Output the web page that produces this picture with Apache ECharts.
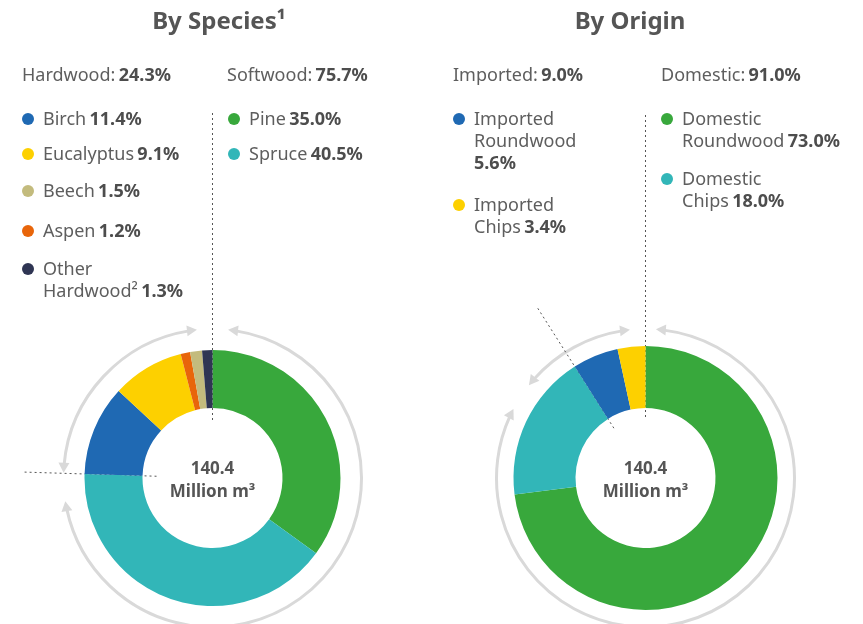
<!DOCTYPE html>
<html>
<head>
<meta charset="utf-8">
<script src="https://cdn.jsdelivr.net/npm/echarts@6/dist/echarts.min.js"></script>
<style>
  html, body { margin: 0; background: #fff; }
  #chart { width: 863px; height: 624px; }
</style>
</head>
<body>
<div id="chart"></div>
<script>
// By Species, in legend order
const speciesNames = ['Birch', 'Eucalyptus', 'Beech', 'Aspen', 'Other\nHardwood²', 'Pine', 'Spruce']
const speciesValues = [11.4, 9.1, 1.5, 1.2, 1.3, 35.0, 40.5]
const speciesColors = ['#1f69b3', '#fdd000', '#c3bb7d', '#e8650a', '#2f3553', '#38a83c', '#32b6b8']
const speciesPieOrder = [5, 6, 0, 1, 3, 2, 4] // clockwise from 12 o'clock
const speciesGroups = ['Hardwood', 'Softwood']
const speciesGroupValues = [24.3, 75.7]

// By Origin, in legend order
const originNames = ['Imported\nRoundwood', 'Imported\nChips', 'Domestic\nRoundwood', 'Domestic\nChips']
const originValues = [5.6, 3.4, 73.0, 18.0]
const originColors = ['#1f69b3', '#fdd000', '#38a83c', '#32b6b8']
const originPieOrder = [2, 3, 0, 1]
const originGroups = ['Imported', 'Domestic']
const originGroupValues = [9.0, 91.0]

const totalVolume = '140.4'
const totalUnit = 'Million m³'
const titles = ['By Species¹', 'By Origin']

// layout
const FONT = '"Noto Sans", "Open Sans", sans-serif'
const TXT = '#5e5e5e'
const BOLD = '#4d4d4d'
const centers = [[212.5, 478], [645.5, 478]]
const radii = [[70, 128], [70, 132]]
const titleX = [219, 630]
const speciesLegendPos = [[28, 119], [28, 154], [28, 191], [28, 231], [28, 269], [234, 119], [234, 154]]
const speciesHeaderPos = [[22, 76], [227, 76]]
const originLegendPos = [[459, 119], [459, 205], [667, 119], [667, 179]]
const originHeaderPos = [[453, 76], [661, 76]]
const originValueOwnLine = [true, false, false, false]
// gray arrow arcs: [from, to] degrees clockwise from top, arrows on both ends
const arrowArcs = [[[-88, -6], [6, 261]], [[-51.5, -6], [4, 297.6]]]

const rich = {
  n: { fontFamily: FONT, fontSize: 18, fill: TXT, lineHeight: 22 },
  b: { fontFamily: FONT, fontSize: 18, fontWeight: 'bold', fill: BOLD, lineHeight: 22 }
}

function legendItem(pos, name, value, color, ownLine) {
  const lines = name.split('\n').map(s => `{n|${s}}`)
  const val = `{b|${value.toFixed(1)}%}`
  if (ownLine) lines.push(val)
  else lines[lines.length - 1] += ' ' + val
  return [
    { type: 'circle', shape: { cx: pos[0], cy: pos[1], r: 6 }, style: { fill: color } },
    {
      type: 'text', x: pos[0] + 15, y: pos[1] - 10,
      style: { text: lines.join('\n'), rich, verticalAlign: 'top', align: 'left' }
    }
  ]
}

function header(pos, name, value) {
  return {
    type: 'text', x: pos[0], y: pos[1],
    style: { text: `{n|${name}:} {b|${value.toFixed(1)}%}`, rich, verticalAlign: 'middle' }
  }
}

function pt(c, r, deg) {
  const a = deg * Math.PI / 180
  return [c[0] + r * Math.sin(a), c[1] - r * Math.cos(a)]
}

function arrowHead(c, r, deg, dir) {
  const a = deg * Math.PI / 180
  const tip = pt(c, r, deg)
  const t = [dir * Math.cos(a), dir * Math.sin(a)]
  const n = [Math.sin(a), -Math.cos(a)]
  const L = 10, W = 5.5
  const base = [tip[0] - t[0] * L, tip[1] - t[1] * L]
  return {
    type: 'polygon',
    shape: { points: [tip, [base[0] + n[0] * W, base[1] + n[1] * W], [base[0] - n[0] * W, base[1] - n[1] * W]] },
    style: { fill: '#d9d9d9' }
  }
}

function arrowArc(c, span) {
  const r = 149
  const shrink = 8 / r * 180 / Math.PI
  const from = span[0] + shrink, to = span[1] - shrink
  return [
    {
      type: 'arc',
      shape: { cx: c[0], cy: c[1], r, startAngle: (from - 90) * Math.PI / 180, endAngle: (to - 90) * Math.PI / 180, clockwise: true },
      style: { stroke: '#d9d9d9', lineWidth: 3, fill: null }
    },
    arrowHead(c, r, span[0], -1),
    arrowHead(c, r, span[1], 1)
  ]
}

function divider(c, deg, r0, r1) {
  const p0 = pt(c, r0, deg), p1 = pt(c, r1, deg)
  return {
    type: 'line',
    shape: { x1: p0[0], y1: p0[1], x2: p1[0], y2: p1[1] },
    style: { stroke: '#555', lineWidth: 1, lineDash: [2, 3] }
  }
}

// boundary angles between groups, from the pie data
const sum = a => a.reduce((s, v) => s + v, 0)
const speciesBoundary = sum(speciesPieOrder.slice(0, 2).map(i => speciesValues[i])) / sum(speciesValues) * 360
const originBoundary = sum(originPieOrder.slice(0, 2).map(i => originValues[i])) / sum(originValues) * 360

const graphics = []
titles.forEach((t, i) => graphics.push({
  type: 'text', x: titleX[i], y: 22,
  style: { text: t, font: `bold 24px ${FONT}`, fill: '#555', align: 'center', verticalAlign: 'middle' }
}))
speciesGroups.forEach((g, i) => graphics.push(header(speciesHeaderPos[i], g, speciesGroupValues[i])))
originGroups.forEach((g, i) => graphics.push(header(originHeaderPos[i], g, originGroupValues[i])))
speciesNames.forEach((n, i) => graphics.push(...legendItem(speciesLegendPos[i], n, speciesValues[i], speciesColors[i], false)))
originNames.forEach((n, i) => graphics.push(...legendItem(originLegendPos[i], n, originValues[i], originColors[i], originValueOwnLine[i])))
centers.forEach((c, i) => {
  arrowArcs[i].forEach(span => graphics.push(...arrowArc(c, span)))
  graphics.push({
    type: 'text', x: c[0], y: c[1] + 3,
    style: {
      text: `${totalVolume}\n${totalUnit}`, font: `bold 17px ${FONT}`, fill: '#555',
      align: 'center', verticalAlign: 'middle', lineHeight: 23
    }
  })
})
graphics.push(divider(centers[0], 0, 58, 365))
graphics.push(divider(centers[0], speciesBoundary, 56, 188))
graphics.push(divider(centers[1], 0, 61, 365))
graphics.push(divider(centers[1], originBoundary, 59, 202))

function pieSeries(i, names, values, colors, order) {
  return {
    type: 'pie', center: centers[i], radius: radii[i],
    startAngle: 90, clockwise: true, silent: true,
    label: { show: false }, labelLine: { show: false },
    data: order.map(k => ({ name: names[k], value: values[k], itemStyle: { color: colors[k] } }))
  }
}

const chart = echarts.init(document.getElementById('chart'))
chart.setOption({
  animation: false,
  series: [
    pieSeries(0, speciesNames, speciesValues, speciesColors, speciesPieOrder),
    pieSeries(1, originNames, originValues, originColors, originPieOrder)
  ],
  graphic: graphics
})
</script>
</body>
</html>
